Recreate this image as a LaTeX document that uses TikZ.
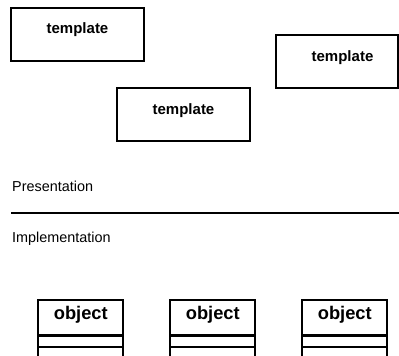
\documentclass[tikz,border=0pt]{standalone}
\usepackage{fontspec}
\setmainfont{Liberation Sans}
\begin{document}
\begin{tikzpicture}[x=1pt,y=-1pt,
  box/.style={draw,line width=2.2pt,inner sep=0pt,outer sep=0pt,anchor=north west},
  tpl/.style={font=\bfseries\fontsize{15}{18}\selectfont,anchor=base,inner sep=0pt},
  obj/.style={font=\bfseries\fontsize{18.3}{21}\selectfont,anchor=base,inner sep=0pt},
  lbl/.style={font=\fontsize{14.4}{17}\selectfont,anchor=base west,inner sep=0pt},
  sep/.style={line width=2.2pt}]
\useasboundingbox (0,0) rectangle (399,356);
\clip (0,0) rectangle (399,356);
% templates
\node[box,minimum width=133pt,minimum height=53pt] (b1) at (11,8) {};
\node[box,minimum width=133pt,minimum height=53pt] (b2) at (117,88) {};
\node[box,minimum width=122pt,minimum height=53pt] (b3) at (276,35) {};
\node[tpl] (t1) at (77.5,34) {template};
\node[tpl] (t2) at (183.5,114) {template};
\node[tpl] (t3) at (342.5,61) {template};
% labels and separator
\node[lbl] (pres) at (12,191) {Presentation};
\node[lbl] (impl) at (12,242) {Implementation};
\coordinate (l1) at (11,212.7);
\coordinate (l2) at (400,212.7);
\draw[sep] (l1) -- (l2);
% objects
\foreach \i/\x in {1/38.3,2/170.3,3/302.3}{
  \node[box,minimum width=85pt,minimum height=80pt] (o\i) at (\x,300.3) {};
  \draw[sep] ([yshift=-35.2pt]o\i.north west) -- ([yshift=-35.2pt]o\i.north east);
  \draw[sep] ([yshift=-46.4pt]o\i.north west) -- ([yshift=-46.4pt]o\i.north east);
  \node[obj] (ot\i) at ([xshift=42.5pt,yshift=-18.7pt]o\i.north west) {object};
}
\end{tikzpicture}
\end{document}
